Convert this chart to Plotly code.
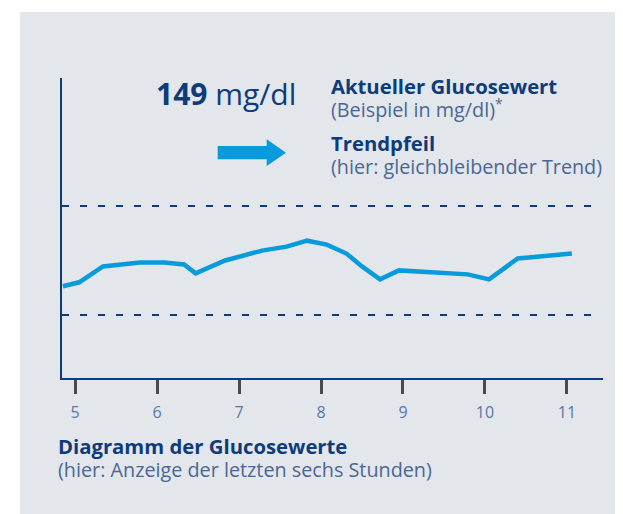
import plotly.graph_objects as go

# Data (hours of day, glucose in mg/dl)
hours = [4.85, 5.05, 5.34, 5.79, 6.09, 6.33, 6.47, 6.83, 7.28, 7.58, 7.83,
         8.07, 8.31, 8.50, 8.72, 8.95, 9.79, 10.05, 10.40, 11.06]
glucose = [99, 103, 119, 123, 123, 121, 112, 125, 135, 139, 145,
           141, 132, 119, 106, 115, 111, 106, 127, 132]
target_low = 70
target_high = 180
tick_hours = [5, 6, 7, 8, 9, 10, 11]
tick_labels = ["5", "6", "7", "8", "9", "10", "11"]

NAVY = "#0e3b7a"
SUB = "#4a6896"
BLUE = "#089bdc"
BG = "#e3e6eb"

OFF = 8  # page body margin
W, H = 623, 514
L, R, T, B = 54, 28, 70, 144
pw = W - L - R
ph = H - T - B

def xp(px):
    return (px - OFF - L) / pw

def yp(py):
    return (H - B - (py - OFF)) / ph

fig = go.Figure()
fig.add_trace(go.Scatter(x=hours, y=glucose, mode="lines",
                         line=dict(color=BLUE, width=4.5), hoverinfo="skip",
                         showlegend=False))

# background panel
fig.add_shape(type="rect", xref="paper", yref="paper",
              x0=xp(20), x1=xp(680), y0=yp(580), y1=yp(12),
              fillcolor=BG, line=dict(width=0), layer="below")

# target range dashed lines
for v in (target_high, target_low):
    fig.add_shape(type="line", xref="paper", yref="y",
                  x0=0, x1=xp(598), y0=v, y1=v,
                  line=dict(color=NAVY, width=2, dash="7px,11px"))

# trend arrow
x1, x2, x3 = xp(217.7), xp(266.7), xp(286)
ys0, ys1 = yp(146), yp(159.3)
yh0, yh1, ym = yp(139.3), yp(166), yp(152.7)
path = (f"M {x1},{ys0} L {x2},{ys0} L {x2},{yh0} L {x3},{ym} "
        f"L {x2},{yh1} L {x2},{ys1} L {x1},{ys1} Z")
fig.add_shape(type="path", xref="paper", yref="paper", path=path,
              fillcolor=BLUE, line=dict(width=0))

FONT = "Open Sans"

def pair(title, sub):
    return (f"<span style='font-size:20.3px;color:{NAVY}'><b>{title}</b></span><br>"
            f"<span style='font-size:19.8px;color:{SUB}'>{sub}</span>")

ann = [
    dict(text="<b>149</b> mg/dl", x=xp(154), y=yp(93), size=30),
    dict(text=pair("Aktueller Glucosewert", "(Beispiel in mg/dl)<sup>*</sup>"),
         x=xp(329), y=yp(97), size=18),
    dict(text=pair("Trendpfeil", "(hier: gleichbleibender Trend)"),
         x=xp(329), y=yp(154.5), size=18),
    dict(text=pair("Diagramm der Glucosewerte", "(hier: Anzeige der letzten sechs Stunden)"),
         x=xp(56), y=yp(457.5), size=18),
]
for a in ann:
    fig.add_annotation(text=a["text"], x=a["x"], y=a["y"], xref="paper", yref="paper",
                       xanchor="left", yanchor="middle", align="left", showarrow=False,
                       font=dict(family=FONT, size=a["size"], color=NAVY))

fig.update_layout(
    width=W, height=H,
    margin=dict(l=L, r=R, t=T, b=B),
    paper_bgcolor="white", plot_bgcolor="rgba(0,0,0,0)",
    xaxis=dict(range=[4.84, 11.44], tickvals=tick_hours, ticktext=tick_labels,
               showgrid=False, zeroline=False, showline=True, linecolor=NAVY,
               linewidth=2, ticks="outside", ticklen=14, tickwidth=2.5,
               tickcolor="#4a4a4a", ticklabelstandoff=5,
               tickfont=dict(family=FONT, size=16, color="#5a79a6"), fixedrange=True),
    yaxis=dict(range=[6.4, 309.2], showgrid=False, zeroline=False, showline=True,
               linecolor=NAVY, linewidth=2, showticklabels=False, ticks="",
               fixedrange=True),
)

fig.write_html("out.html")
